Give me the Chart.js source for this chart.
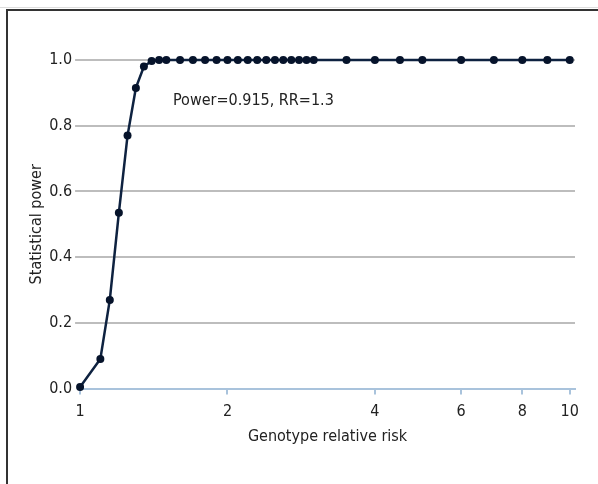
<!DOCTYPE html>
<html>
<head>
<meta charset="utf-8">
<script src="https://cdn.jsdelivr.net/npm/chart.js@4/dist/chart.umd.min.js"></script>
<style>
  body { margin: 0; background: #fff; }
  #wrap { position: relative; width: 598px; height: 484px; }
  #frame { position: absolute; left: 6px; top: 9px; right: 0; bottom: 0;
           border-top: 2px solid #333; border-left: 2px solid #333; }
  #shade { position: absolute; left: 0; top: 7px; width: 598px; height: 1px; background: #ddd; }
  canvas { position: absolute; left: 0; top: 0; }
</style>
</head>
<body>
<div id="wrap">
  <div id="shade"></div>
  <div id="frame"></div>
  <canvas id="power-chart" width="598" height="484"></canvas>
</div>
<script>
// genotype relative risk vs statistical power
const rr = [1.0, 1.1, 1.15, 1.2, 1.25, 1.3, 1.35, 1.4, 1.45, 1.5, 1.6, 1.7, 1.8, 1.9, 2.0,
            2.1, 2.2, 2.3, 2.4, 2.5, 2.6, 2.7, 2.8, 2.9, 3.0, 3.5, 4.0, 4.5, 5.0, 6.0, 7.0, 8.0, 9.0, 10.0];
const power = [0.005, 0.09, 0.27, 0.535, 0.77, 0.915, 0.98, 0.997, 1.0, 1.0, 1.0, 1.0, 1.0, 1.0, 1.0,
               1.0, 1.0, 1.0, 1.0, 1.0, 1.0, 1.0, 1.0, 1.0, 1.0, 1.0, 1.0, 1.0, 1.0, 1.0, 1.0, 1.0, 1.0, 1.0];
const xTicks = [1, 2, 4, 6, 8, 10];
const yTicks = [0, 0.2, 0.4, 0.6, 0.8, 1.0];
const note = "Power=0.915, RR=1.3";

const font = "'Liberation Sans Narrow', 'DejaVu Sans Condensed', sans-serif";

const notePlugin = {
    id: 'note',
    afterDatasetsDraw(chart) {
        const ctx = chart.ctx;
        ctx.save();
        ctx.font = "16px " + font;
        ctx.fillStyle = "#222";
        ctx.textBaseline = "middle";
        ctx.fillText(note, 173, 101);
        ctx.restore();
    }
};

new Chart(document.getElementById("power-chart"), {
    type: 'line',
    data: {
        datasets: [{
            data: rr.map((v, i) => ({ x: v, y: power[i] })),
            borderColor: "#0e2240",
            backgroundColor: "#06132b",
            borderWidth: 2.5,
            pointRadius: 4,
            pointBorderWidth: 0,
            tension: 0,
            clip: false
        }]
    },
    options: {
        responsive: false,
        animation: false,
        layout: { padding: { left: 27, right: 23, top: 60, bottom: 38 } },
        plugins: { legend: { display: false }, tooltip: { enabled: false } },
        scales: {
            x: {
                type: 'logarithmic',
                min: 1,
                max: 10.25,
                afterBuildTicks: axis => { axis.ticks = xTicks.map(v => ({ value: v })); },
                ticks: {
                    color: "#222",
                    font: { family: font, size: 16 },
                    padding: 8,
                    maxRotation: 0,
                    callback: v => String(v)
                },
                grid: {
                    drawOnChartArea: false,
                    drawTicks: true,
                    tickLength: 6,
                    color: "#a9c3dc",
                    lineWidth: 2
                },
                border: { display: true, color: "#a9c3dc", width: 2 },
                title: {
                    display: true,
                    text: "Genotype relative risk",
                    color: "#222",
                    font: { family: font, size: 16 },
                    padding: { top: -3, bottom: 0 }
                }
            },
            y: {
                min: 0,
                max: 1,
                afterBuildTicks: axis => { axis.ticks = yTicks.map(v => ({ value: v })); },
                ticks: {
                    color: "#222",
                    font: { family: font, size: 16 },
                    padding: 3,
                    callback: v => v.toFixed(1)
                },
                grid: {
                    color: ctx => ctx.tick && ctx.tick.value === 0 ? "rgba(0,0,0,0)" : "#bdbdbd",
                    lineWidth: 2,
                    tickLength: 5
                },
                border: { display: false },
                title: {
                    display: true,
                    text: "Statistical power",
                    color: "#222",
                    font: { family: font, size: 16 },
                    padding: { top: 0, bottom: 0 }
                }
            }
        }
    },
    plugins: [notePlugin]
});
</script>
</body>
</html>
